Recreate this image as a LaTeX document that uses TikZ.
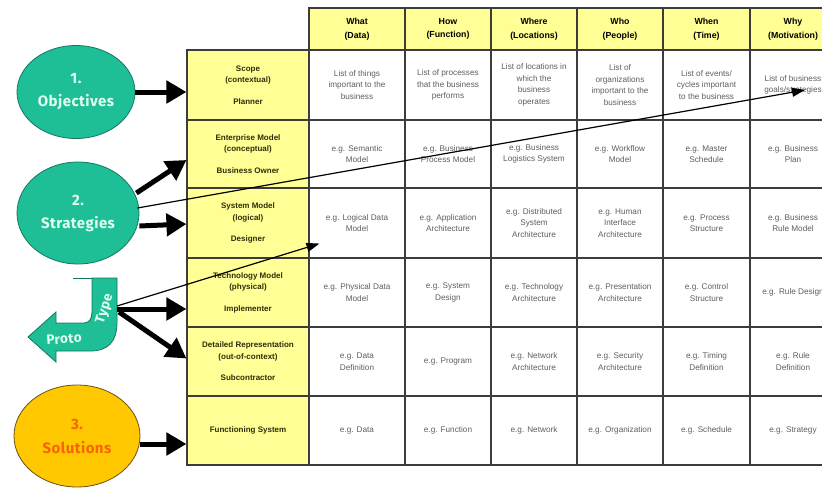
\documentclass[tikz,border=0pt]{standalone}
\usepackage{fontspec}
\setmainfont{Liberation Sans}
\newfontfamily\ovalfont{Fira Sans}[LetterSpace=3]
\usetikzlibrary{shapes.geometric,arrows.meta,calc}

\definecolor{tealfill}{RGB}{30,190,150}
\definecolor{tealline}{RGB}{20,120,95}
\definecolor{tealtext}{RGB}{225,255,240}
\definecolor{lemon}{RGB}{255,255,150}
\definecolor{goldfill}{RGB}{255,200,0}
\definecolor{goldline}{RGB}{110,80,20}
\definecolor{orangetext}{RGB}{250,100,0}
\definecolor{gridline}{RGB}{60,60,60}
\definecolor{celltext}{RGB}{95,95,95}
\definecolor{labeltext}{RGB}{45,45,10}

\begin{document}
\begin{tikzpicture}[x=1pt,y=-1pt,
  % table cells
  cellbox/.style={draw=gridline, line width=1.1pt, inner sep=0pt, align=center,
    text=celltext, font=\fontsize{8.2}{11.5}\selectfont},
  headbox/.style={cellbox, fill=lemon, text=black,
    font=\bfseries\fontsize{8.8}{13.5}\selectfont},
  labelbox/.style={cellbox, fill=lemon, text=labeltext, minimum width=122pt,
    font=\bfseries\fontsize{8}{11.5}\selectfont},
  wA/.style={minimum width=96pt}, wB/.style={minimum width=86pt},
  wC/.style={minimum width=86pt}, wD/.style={minimum width=86pt},
  wE/.style={minimum width=87pt}, wF/.style={minimum width=86pt},
  hH/.style={minimum height=42pt}, hA/.style={minimum height=70pt},
  hB/.style={minimum height=68pt}, hC/.style={minimum height=70pt},
  hD/.style={minimum height=69pt}, hE/.style={minimum height=69pt},
  hF/.style={minimum height=69pt},
  % ovals on the left
  tealoval/.style={ellipse, draw=tealline, line width=0.8pt, fill=tealfill,
    inner sep=0pt, text=tealtext, align=center,
    font=\ovalfont\bfseries\fontsize{15}{23}\selectfont},
  goldoval/.style={ellipse, draw=goldline, line width=0.8pt, fill=goldfill,
    inner sep=0pt, text=orangetext, align=center,
    font=\ovalfont\bfseries\fontsize{15}{24}\selectfont},
  prototext/.style={text=tealtext, inner sep=0pt,
    font=\ovalfont\bfseries\fontsize{13.5}{13.5}\selectfont},
  % connectors
  bigarrow/.style={line width=5pt, -{Triangle[length=20pt,width=22pt]}},
  thinarrow/.style={line width=1.2pt, -{Triangle[length=13pt,width=9pt]}}
]
\useasboundingbox (0,0) rectangle (822,488);
\fill[white] (0,0) rectangle (822,488);
\clip (0,0) rectangle (822,488);

% ---- column headers ----
\node[headbox,wA,hH] (hWhat)  at (357,29)   {What\\(Data)};
\node[headbox,wB,hH] (hHow)   at (448,29)   {How\\(Function)};
\node[headbox,wC,hH] (hWhere) at (534,29)   {Where\\(Locations)};
\node[headbox,wD,hH] (hWho)   at (620,29)   {Who\\(People)};
\node[headbox,wE,hH] (hWhen)  at (706.5,29) {When\\(Time)};
\node[headbox,wF,hH] (hWhy)   at (793,29)   {Why\\(Motivation)};

% ---- row labels ----
\node[labelbox,hA] (lScope) at (248,85)    {Scope\\(contextual)\\[10pt]Planner};
\node[labelbox,hB] (lEnt)   at (248,154)   {Enterprise Model\\(conceptual)\\[10pt]Business Owner};
\node[labelbox,hC] (lSys)   at (248,223)   {System Model\\(logical)\\[10pt]Designer};
\node[labelbox,hD] (lTech)  at (248,292.5) {Technology Model\\(physical)\\[10pt]Implementer};
\node[labelbox,hE] (lDet)   at (248,361.5) {Detailed Representation\\(out-of-context)\\[10pt]Subcontractor};
\node[labelbox,hF] (lFunc)  at (248,430.5) {Functioning System};

% ---- scope row ----
\node[cellbox,wA,hA] (aScope) at (357,85)   {List of things\\important to the\\business};
\node[cellbox,wB,hA] (bScope) at (448,85)   {List of processes\\that the business\\performs};
\node[cellbox,wC,hA] (cScope) at (534,85)   {List of locations in\\which the\\business\\operates};
\node[cellbox,wD,hA] (dScope) at (620,85)   {List of\\organizations\\important to the\\business};
\node[cellbox,wE,hA] (eScope) at (706.5,85) {List of events/\\cycles important\\to the business};
\node[cellbox,wF,hA] (fScope) at (793,85)   {List of business\\goals/strategies};

% ---- enterprise row ----
\node[cellbox,wA,hB] (aEnt) at (357,154)   {e.g. Semantic\\Model};
\node[cellbox,wB,hB] (bEnt) at (448,154)   {e.g. Business\\Process Model};
\node[cellbox,wC,hB] (cEnt) at (534,154)   {e.g. Business\\Logistics System};
\node[cellbox,wD,hB] (dEnt) at (620,154)   {e.g. Workflow\\Model};
\node[cellbox,wE,hB] (eEnt) at (706.5,154) {e.g. Master\\Schedule};
\node[cellbox,wF,hB] (fEnt) at (793,154)   {e.g. Business\\Plan};

% ---- system row ----
\node[cellbox,wA,hC] (aSys) at (357,223)   {e.g. Logical Data\\Model};
\node[cellbox,wB,hC] (bSys) at (448,223)   {e.g. Application\\Architecture};
\node[cellbox,wC,hC] (cSys) at (534,223)   {e.g. Distributed\\System\\Architecture};
\node[cellbox,wD,hC] (dSys) at (620,223)   {e.g. Human\\Interface\\Architecture};
\node[cellbox,wE,hC] (eSys) at (706.5,223) {e.g. Process\\Structure};
\node[cellbox,wF,hC] (fSys) at (793,223)   {e.g. Business\\Rule Model};

% ---- technology row ----
\node[cellbox,wA,hD] (aTech) at (357,292.5)   {e.g. Physical Data\\Model};
\node[cellbox,wB,hD] (bTech) at (448,292.5)   {e.g. System\\Design};
\node[cellbox,wC,hD] (cTech) at (534,292.5)   {e.g. Technology\\Architecture};
\node[cellbox,wD,hD] (dTech) at (620,292.5)   {e.g. Presentation\\Architecture};
\node[cellbox,wE,hD] (eTech) at (706.5,292.5) {e.g. Control\\Structure};
\node[cellbox,wF,hD] (fTech) at (793,292.5)   {e.g. Rule Design};

% ---- detailed representation row ----
\node[cellbox,wA,hE] (aDet) at (357,361.5)   {e.g. Data\\Definition};
\node[cellbox,wB,hE] (bDet) at (448,361.5)   {e.g. Program};
\node[cellbox,wC,hE] (cDet) at (534,361.5)   {e.g. Network\\Architecture};
\node[cellbox,wD,hE] (dDet) at (620,361.5)   {e.g. Security\\Architecture};
\node[cellbox,wE,hE] (eDet) at (706.5,361.5) {e.g. Timing\\Definition};
\node[cellbox,wF,hE] (fDet) at (793,361.5)   {e.g. Rule\\Definition};

% ---- functioning system row ----
\node[cellbox,wA,hF] (aFunc) at (357,430.5)   {e.g. Data};
\node[cellbox,wB,hF] (bFunc) at (448,430.5)   {e.g. Function};
\node[cellbox,wC,hF] (cFunc) at (534,430.5)   {e.g. Network};
\node[cellbox,wD,hF] (dFunc) at (620,430.5)   {e.g. Organization};
\node[cellbox,wE,hF] (eFunc) at (706.5,430.5) {e.g. Schedule};
\node[cellbox,wF,hF] (fFunc) at (793,430.5)   {e.g. Strategy};

% ---- ovals ----
\node[tealoval, minimum width=118pt, minimum height=93pt]  (obj)   at (76,92)  {1.\\Objectives};
\node[tealoval, minimum width=122pt, minimum height=102pt] (strat) at (78,213) {2.\\Strategies};
\node[goldoval, minimum width=126pt, minimum height=102pt] (sol)   at (77,436) {3.\\Solutions};

% ---- prototype U-turn arrow ----
\draw[tealline, line width=0.8pt, fill=tealfill]
  (92,278) -- (117,278) -- (117,322)
  .. controls (117,342) and (108,351) .. (90,351) -- (56,351) -- (56,362)
  -- (28,337) -- (56,312) -- (56,323) -- (84,323)
  .. controls (89,323) and (92,319) .. (92,312) -- cycle;
\draw[tealline, line width=0.8pt] (73,278) -- (92,278);
\node[prototext, rotate=4]  (protoA) at (64,339) {Proto};
\node[prototext, rotate=72] (protoB) at (105,309) {Type};
\coordinate (protoOut) at (117,309);
\coordinate (solOut) at ($(sol.east)+(0,8)$);

% ---- connectors ----
\draw[bigarrow] (obj.east) -- (obj.east -| lScope.west);
\draw[bigarrow] ($(strat.east)+(-3,-20)$) -- ($(lEnt.west)+(0,6)$);
\draw[bigarrow] ($(strat.east)+(0,13)$) -- ($(lSys.west)+(0,1)$);
\draw[bigarrow] (protoOut) -- (protoOut -| lTech.west);
\draw[bigarrow] ($(protoOut)+(2,3)$) -- ($(lDet.west)+(0,-3)$);
\draw[bigarrow] (solOut) -- (solOut -| lFunc.west);
\draw[thinarrow] ($(strat.east)+(-2,-5)$) -- ($(fScope.center)+(12,5)$);
\draw[thinarrow] ($(protoOut)+(0,-3)$) -- ($(aSys.south west)+(11,-15)$);
\end{tikzpicture}
\end{document}
